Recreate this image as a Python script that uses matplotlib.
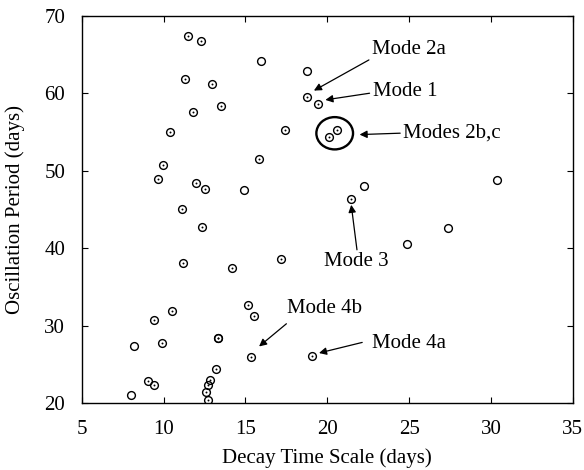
import matplotlib
matplotlib.use("Agg")
import matplotlib.pyplot as plt
from matplotlib.patches import Ellipse

# === DATA ===
# plain open circles
open_x = [15.95, 18.78, 14.88, 22.27, 30.34, 24.88, 27.38, 8.19, 7.99]
open_y = [64.21, 62.92, 47.52, 48.04, 48.77, 40.55, 42.62, 27.30, 21.07]

# circles with a centre dot
dot_x = [11.50, 12.29, 11.30, 12.93, 18.74, 19.44, 13.49, 11.80, 10.38, 17.42,
         20.10, 20.59, 9.94, 9.67, 15.83, 11.95, 12.54, 11.13, 21.46, 12.34,
         11.20, 14.16, 17.15, 10.51, 9.43, 15.14, 15.55, 9.88, 13.31, 13.35,
         15.36, 19.09, 13.23, 9.04, 9.43, 12.84, 12.72, 12.58, 12.70]
dot_y = [67.39, 66.71, 61.88, 61.16, 59.56, 58.64, 58.40, 57.63, 54.97, 55.31,
         54.40, 55.26, 50.79, 48.90, 51.56, 48.39, 47.61, 45.07, 46.36, 42.75,
         38.10, 37.42, 38.58, 31.91, 30.75, 32.65, 31.17, 27.74, 28.40, 28.45,
         26.00, 26.10, 24.39, 22.84, 22.28, 23.00, 22.30, 21.40, 20.34]

# mode labels: text, text anchor, arrow head, arrow tail
mode_labels = ["Mode 2a", "Mode 1", "Modes 2b,c", "Mode 3", "Mode 4b", "Mode 4a"]
label_pos = [(22.74, 65.6), (22.82, 60.2), (24.65, 54.84),
             (21.74, 38.27), (17.54, 32.26), (22.74, 27.74)]
label_ha = ["left", "left", "left", "center", "left", "left"]
arrow_head = [(19.18, 60.34), (19.88, 59.14), (21.97, 54.66),
              (21.46, 45.59), (15.83, 27.30), (19.49, 26.45)]
arrow_tail = [(22.54, 64.3), (22.58, 60.0), (24.45, 54.84),
              (21.81, 39.78), (17.50, 30.23), (22.13, 27.82)]

plt.rcParams['font.family'] = ['Liberation Serif', 'DejaVu Serif']

fig = plt.figure(figsize=(5.84, 4.70), dpi=100)
ax = fig.add_axes([0.140, 0.1426, 0.841, 0.8238])

ax.plot(open_x, open_y, 'o', ms=5.6, mfc='none', mec='black', mew=1.0)
ax.plot(dot_x, dot_y, 'o', ms=5.6, mfc='none', mec='black', mew=1.0)
ax.plot(dot_x, dot_y, 'o', ms=1.4, mfc='black', mec='black', mew=0)

# ring around modes 2b,c
ax.add_patch(Ellipse((20.45, 54.83), 2.24, 4.17, fill=False, ec='black', lw=1.7))

for txt, pos, ha, head, tail in zip(mode_labels, label_pos, label_ha,
                                    arrow_head, arrow_tail):
    ax.annotate('', xy=head, xytext=tail,
                arrowprops=dict(arrowstyle='-|>', color='black', lw=0.9,
                                mutation_scale=11, shrinkA=0, shrinkB=0))
    ax.text(pos[0], pos[1], txt, ha=ha, va='center', fontsize=15)

ax.set_xlim(5, 35)
ax.set_ylim(20, 70)
ax.set_xticks(range(5, 36, 5))
ax.set_yticks(range(20, 71, 10))
ax.tick_params(direction='in', top=True, right=True, length=4, width=0.8,
               labelsize=15, pad=12)
for s in ax.spines.values():
    s.set_linewidth(1.0)
ax.set_xlabel("Decay Time Scale (days)", fontsize=15, va='top')
ax.set_ylabel("Oscillation Period (days)", fontsize=15)
ax.xaxis.set_label_coords(0.5, -0.118)
ax.yaxis.set_label_coords(-0.115, 0.5)

fig.savefig("out.png", dpi=100)
